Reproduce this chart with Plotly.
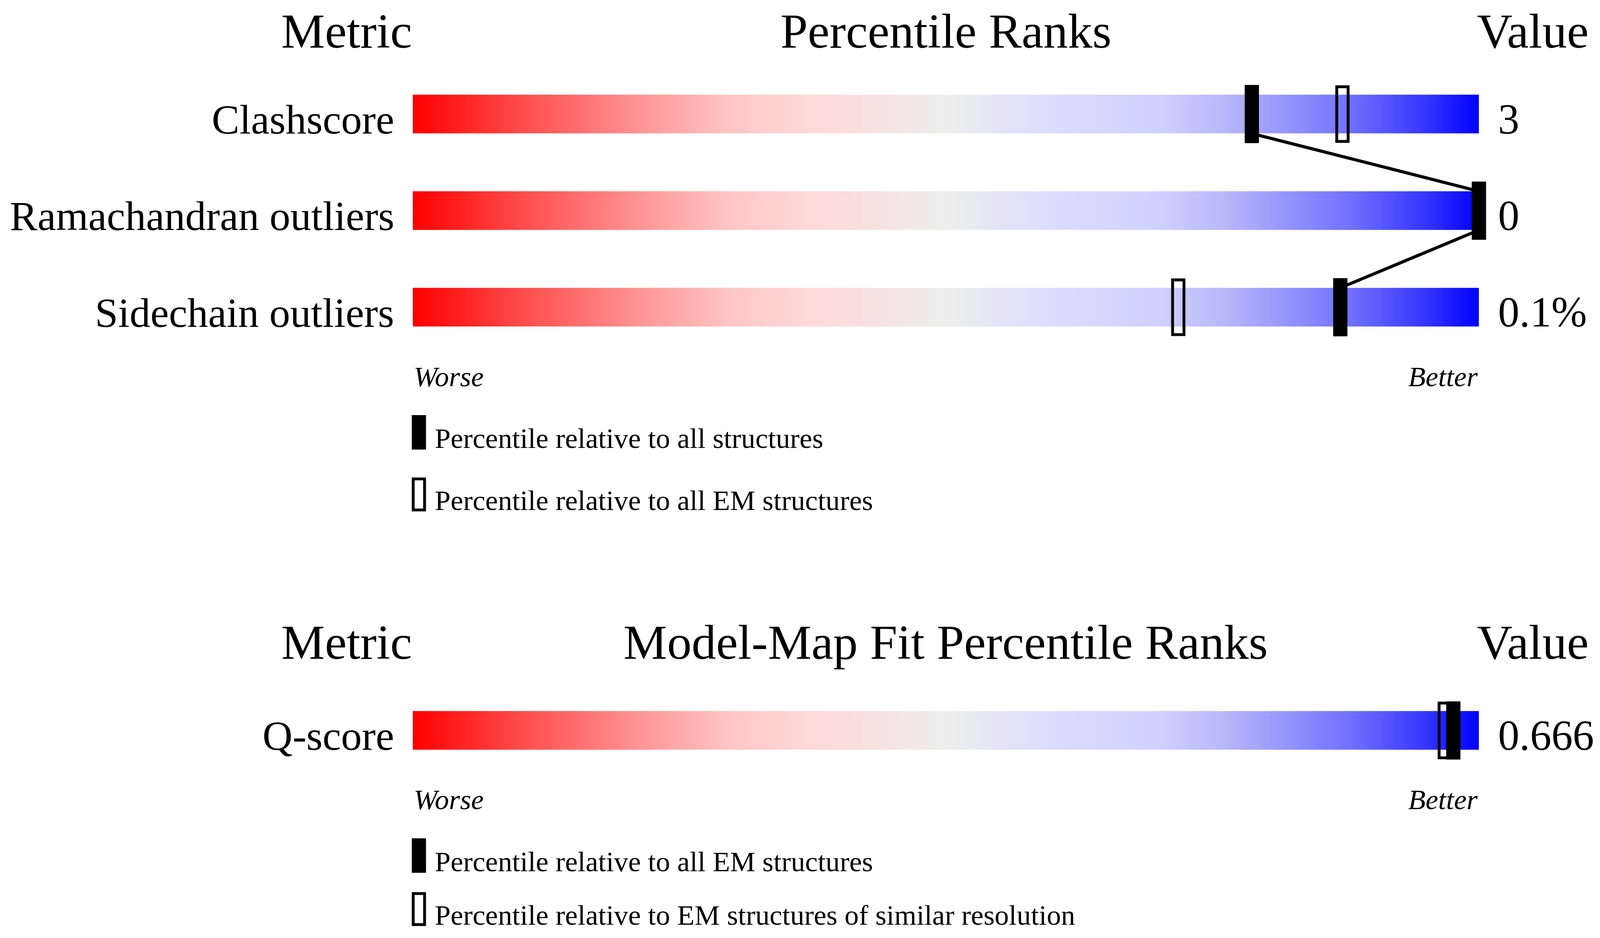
import numpy as np
import plotly.graph_objects as go

# values
metrics = ["Clashscore", "Ramachandran outliers", "Sidechain outliers"]
metric_values = ["3", "0", "0.1%"]
pct_all = [78.7, 100.0, 87.0]
pct_all_em = [87.2, 100.0, 71.8]

fit_metrics = ["Q-score"]
fit_values = ["0.666"]
pct_fit_all_em = [97.6]
pct_fit_similar = [96.8]

titles = ["Percentile Ranks", "Model-Map Fit Percentile Ranks"]
legend_1 = ["Percentile relative to all structures",
            "Percentile relative to all EM structures"]
legend_2 = ["Percentile relative to all EM structures",
            "Percentile relative to EM structures of similar resolution"]

GRADIENT = [
    [0.00, "#ff0000"], [0.10, "#ff4a4a"], [0.20, "#ff8c8c"],
    [0.25, "#ffaaaa"], [0.30, "#ffc6c6"], [0.37, "#ffd8d8"],
    [0.45, "#f4e4e4"], [0.50, "#eeeeee"], [0.55, "#e4e4f6"],
    [0.60, "#dcdcff"], [0.70, "#d0d0ff"], [0.76, "#b8b8fa"],
    [0.80, "#a0a0fc"], [0.88, "#7070ff"], [0.95, "#3535ff"],
    [1.00, "#0000ff"],
]

# laid out in reference pixels (4485 x 2402); the figure fills the window
W, H = 4485, 2402
FS = 0.91                      # text/stroke scale for the narrower page
X0, PX_PER_PCT = 1153, 30.0    # pixel of the 0th percentile, pixels per percentile
BAR_H, MARK_H, MARK_W, KEY_H = 100, 150, 40, 89
STROKE = 8 * FS
FONT = "Liberation Serif"
grad = np.arange(1000) * 0.1 + 0.05   # colour ramp along the bar


def px(p):
    return (p - X0) / PX_PER_PCT


def text(fig, x, y, s, size, anchor):
    # y is the baseline; shift to the middle of the text box
    size = size * FS
    fig.add_annotation(x=x, y=y - 0.3375 * size, text=s, showarrow=False,
                       xanchor=anchor, yanchor="middle", xref="x", yref="y",
                       font=dict(family=FONT, size=size, color="black"))


def marks(fig, xs, ys, hollow, h=MARK_H):
    w = MARK_W / PX_PER_PCT
    if hollow:
        fig.add_trace(go.Bar(x=xs, y=[h - 9] * len(xs),
                             base=[y - (h - 9) / 2 for y in ys],
                             width=[w * 0.8] * len(xs),
                             marker=dict(color="rgba(0,0,0,0)",
                                         line=dict(color="black", width=STROKE)),
                             hoverinfo="skip"))
    else:
        fig.add_trace(go.Bar(x=xs, y=[h] * len(xs),
                             base=[y - h / 2 for y in ys],
                             width=[w] * len(xs),
                             marker=dict(color="black", line=dict(width=0)),
                             hoverinfo="skip"))


def panel(fig, title, names, values, solid, hollow, legend, header_y, rows,
          last_lift=0):
    text(fig, 0, header_y, "Metric", 138, "right")
    text(fig, 50, header_y, title, 138, "center")
    text(fig, px(4145), header_y, "Value", 138, "left")

    for name, val, yc in zip(names, values, rows):
        fig.add_trace(go.Heatmap(z=[grad], x0=0.05, dx=0.1, y0=yc, dy=BAR_H,
                                 colorscale=GRADIENT, zmin=0, zmax=100,
                                 showscale=False, hoverinfo="skip"))
        text(fig, px(1103), yc + BAR_H / 2, name, 117, "right")
        text(fig, px(4205), yc + BAR_H / 2, val, 120, "left")

    # line joining the solid markers, bar bottom to next bar top
    lx, ly = [], []
    for i, (p, yc) in enumerate(zip(solid, rows)):
        if i > 0:
            lx.append(p); ly.append(yc - BAR_H / 2)
        if i < len(rows) - 1:
            lx.append(p); ly.append(yc + BAR_H / 2)
    if lx:
        fig.add_trace(go.Scatter(x=lx, y=ly, mode="lines",
                                 line=dict(color="black", width=8),
                                 hoverinfo="skip"))

    marks(fig, hollow, rows, True)
    marks(fig, solid, rows, False)

    worse_y = rows[-1] + 203
    text(fig, 0, worse_y, "<i>Worse</i>", 80, "left")
    text(fig, 100, worse_y, "<i>Better</i>", 80, "right")

    for k, s in enumerate(legend):
        base = worse_y + 160 * (k + 1) - (last_lift if k == 1 else 0)
        marks(fig, [px(1170)], [base - 40.5], k == 1, KEY_H)
        text(fig, px(1213), base, s, 80, "left")


fig = go.Figure()
panel(fig, titles[0], metrics, metric_values, pct_all, pct_all_em, legend_1,
      114, [286, 535, 784])
panel(fig, titles[1], fit_metrics, fit_values, pct_fit_all_em, pct_fit_similar,
      legend_2, 1690, [1875], last_lift=22)

fig.update_layout(
    autosize=True, margin=dict(l=0, r=0, t=0, b=0),
    paper_bgcolor="white", plot_bgcolor="white",
    barmode="overlay", showlegend=False,
    xaxis=dict(range=[px(0), px(W)], visible=False, fixedrange=True),
    yaxis=dict(range=[H, 0], visible=False, fixedrange=True),
)
fig.write_html("out.html", default_width="calc(100vw - 16px)",
               default_height="calc(100vh - 16px)")
